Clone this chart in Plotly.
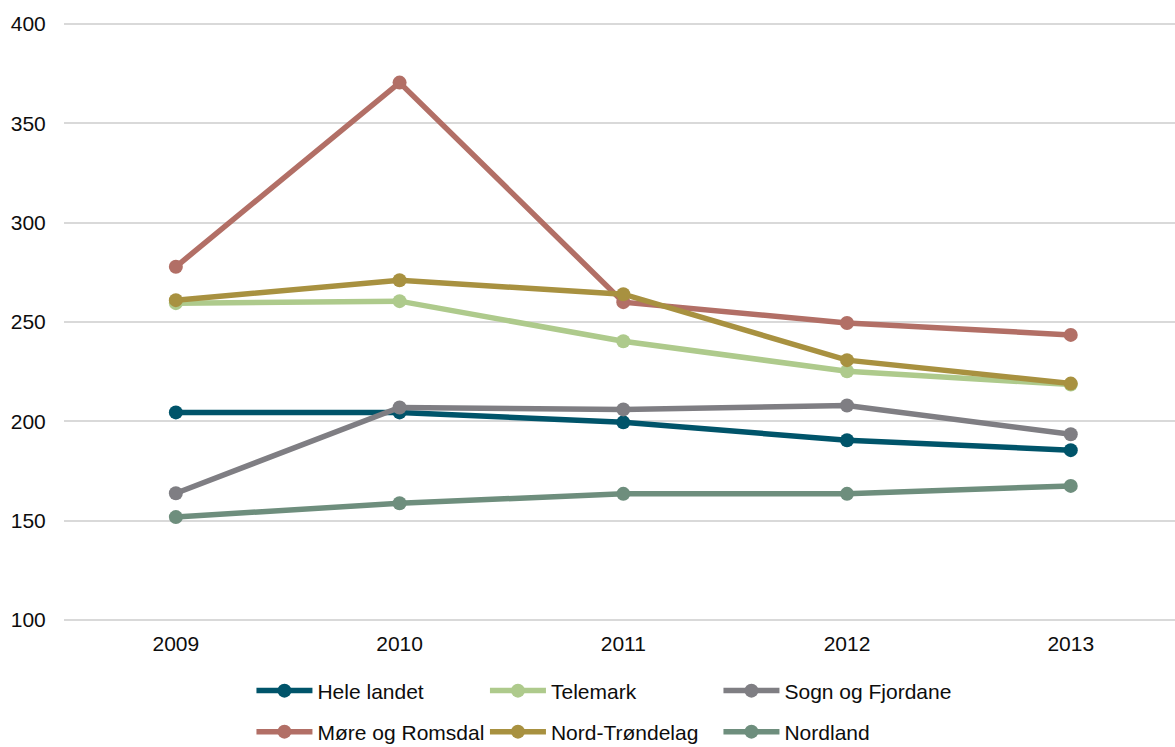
import plotly.graph_objects as go

years = ["2009", "2010", "2011", "2012", "2013"]
hele_landet = [204.5, 204.5, 199.5, 190.5, 185.5]
telemark = [259.5, 260.5, 240.3, 225.2, 218.5]
sogn_og_fjordane = [163.8, 207.0, 206.0, 208.0, 193.5]
more_og_romsdal = [277.8, 370.5, 260.0, 249.5, 243.5]
nord_trondelag = [261.0, 271.0, 264.0, 230.8, 219.0]
nordland = [151.8, 158.8, 163.5, 163.5, 167.5]

series = [
    ("Hele landet", hele_landet, "#00546A", "legend"),
    ("Telemark", telemark, "#AECA8C", "legend"),
    ("Sogn og Fjordane", sogn_og_fjordane, "#7F7E83", "legend"),
    ("Møre og Romsdal", more_og_romsdal, "#B26F66", "legend2"),
    ("Nord-Trøndelag", nord_trondelag, "#A89140", "legend2"),
    ("Nordland", nordland, "#6E8E7D", "legend2"),
]

fig = go.Figure()
for name, vals, color, lg in series:
    fig.add_trace(go.Scatter(
        x=years, y=vals, name=name, mode="lines+markers",
        line=dict(color=color, width=5.5),
        marker=dict(color=color, size=14),
        legend=lg,
    ))

font = dict(family="Liberation Sans, Arial, sans-serif", size=21, color="#0d0d0d")

legend_common = dict(
    orientation="h", xanchor="left", yanchor="middle",
    xref="container", yref="container",
    x=0.2140, entrywidth=162.5, entrywidthmode="pixels",
    itemwidth=56, font=font, bgcolor="rgba(0,0,0,0)",
    traceorder="normal",
)

fig.update_layout(
    width=1175, height=747,
    margin=dict(l=64, r=0, t=22, b=125, autoexpand=False),
    paper_bgcolor="white", plot_bgcolor="white",
    font=font,
    showlegend=True,
    legend=dict(**legend_common, y=0.0750),
    legend2=dict(**legend_common, y=0.0201),
    xaxis=dict(
        type="category", range=[-0.5, 4.466],
        showgrid=False, zeroline=False, showline=False,
        ticks="outside", ticklen=3, tickcolor="rgba(0,0,0,0)",
        tickfont=font, automargin=False,
    ),
    yaxis=dict(
        range=[99, 401], tickvals=[100, 150, 200, 250, 300, 350, 400],
        showgrid=True, gridcolor="#D9D9D9", gridwidth=2,
        zeroline=False, showline=False,
        ticks="outside", ticklen=13, tickcolor="rgba(0,0,0,0)",
        tickfont=font, automargin=False,
    ),
)

fig.write_html(
    "out.html",
    config={"displayModeBar": False},
    post_script="document.body.style.margin='0';document.body.style.overflow='hidden';",
)
